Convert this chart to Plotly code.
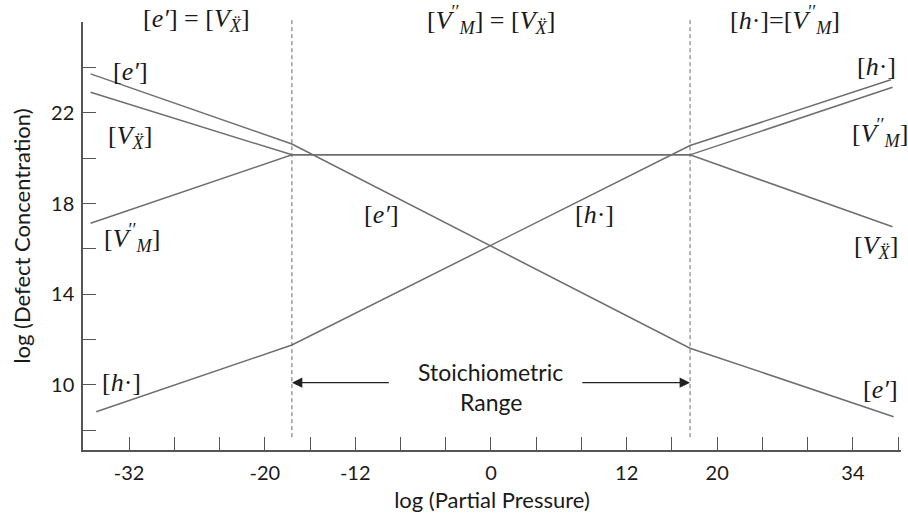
import plotly.graph_objects as go

# Brouwer diagram: log defect concentration vs log partial pressure
# Region boundaries (log P) and piecewise-linear defect lines
bounds = [-17.6, 17.6]

e_x = [-35.4, -17.6, 17.6, 35.6]
e_y = [23.72, 20.63, 11.62, 8.60]

h_x = [-34.9, -17.6, 17.6, 35.35]
h_y = [8.82, 11.76, 20.56, 23.46]

vm_x = [-35.4, -17.6, 17.6, 35.5]
vm_y = [17.13, 20.15, 20.15, 23.13]

vx_x = [-35.4, -17.6, 17.6, 35.5]
vx_y = [22.91, 20.15, 20.15, 16.98]

x_tickvals = [-32, -20, -12, 0, 12, 20, 32]
x_ticktext = ["-32", "-20", "-12", "0", "12", "20", "34"]
x_minor = [-32 + 4 * i for i in range(18)]

y_tickvals = [10, 14, 18, 22]
y_ticktext = ["10", "14", "18", "22"]
y_minor = [8, 10, 12, 14, 16, 18, 20, 22, 24]

LINE = "#6e6e6e"
AXIS = "#555555"
TXT = "#1a1a1a"
SANS = "Lato, 'Open Sans', sans-serif"
SERIF = "'Liberation Serif', 'DejaVu Serif', serif"

E = "[<i>e′</i>]"
H = "[<i>h</i>·]"
VM = "[<i>V</i><sup>′′</sup><sub><i>M</i></sub>]"
VX = "[<i>V</i><sub><i>Ẍ</i></sub>]"

fig = go.Figure()

for xs, ys in [(e_x, e_y), (h_x, h_y), (vm_x, vm_y), (vx_x, vx_y)]:
    fig.add_trace(go.Scatter(x=xs, y=ys, mode="lines",
                             line=dict(color=LINE, width=1.5),
                             hoverinfo="skip", showlegend=False))

# dashed regime boundaries
for b in bounds:
    fig.add_shape(type="line", xref="x", yref="paper", x0=b, x1=b,
                  y0=0.030, y1=1.009,
                  line=dict(color="#6a6a6a", width=1, dash="4px,3px"))

# curve labels (text, x, y)
labels = [
    (E, -31.9, 23.81), (VX, -31.9, 20.94), (VM, -31.7, 16.49),
    (E, -9.72, 17.54), (H, 9.11, 17.54),
    (H, 34.05, 24.03), (VM, 34.4, 21.12), (VX, 34.05, 16.09),
    (H, -32.7, 10.09), (E, 34.4, 9.78),
]
for t, x, y in labels:
    fig.add_annotation(x=x, y=y, text=t, showarrow=False,
                       font=dict(family=SERIF, size=26, color=TXT))

# region headers
headers = [
    (E + " = " + VX, -26.0),
    (VM + " = " + VX, 0.0),
    (H + "=" + VM, 26.0),
]
for t, x in headers:
    fig.add_annotation(x=x, y=1.005, xref="x", yref="paper", text=t,
                       showarrow=False, yanchor="middle",
                       font=dict(family=SERIF, size=26, color=TXT))

fig.add_annotation(x=0, y=10.58, text="Stoichiometric", showarrow=False,
                   font=dict(family=SANS, size=23, color=TXT))
fig.add_annotation(x=0, y=9.25, text="Range", showarrow=False,
                   font=dict(family=SANS, size=23, color=TXT))

for head, tail in [(bounds[0], -8.9), (bounds[1], 7.94)]:
    fig.add_annotation(x=head, y=10.1, ax=tail, ay=10.1, axref="x", ayref="y",
                       xref="x", yref="y", text="", showarrow=True,
                       arrowhead=2, arrowsize=1.6, arrowwidth=1.3,
                       arrowcolor="#222222")

tick_style = dict(ticks="inside", ticklen=13, tickwidth=1.3, tickcolor=AXIS)

fig.update_xaxes(range=[-36.07, 36.25], tickvals=x_tickvals, ticktext=x_ticktext,
                 minor=dict(tickvals=x_minor, **tick_style), **tick_style,
                 showline=True, linecolor=AXIS, linewidth=1.5, mirror=False,
                 showgrid=False, zeroline=False, ticklabelstandoff=4,
                 tickfont=dict(family=SANS, size=20, color=TXT),
                 title=dict(text="log (Partial Pressure)", standoff=10,
                            font=dict(family=SANS, size=22, color=TXT)))
fig.update_yaxes(range=[7.13, 26.01], tickvals=y_tickvals, ticktext=y_ticktext,
                 minor=dict(tickvals=y_minor, **tick_style), **tick_style,
                 showline=True, linecolor=AXIS, linewidth=1.5, mirror=False,
                 showgrid=False, zeroline=False, ticklabelstandoff=3,
                 tickfont=dict(family=SANS, size=20, color=TXT),
                 title=dict(text="log (Defect Concentration)", standoff=14,
                            font=dict(family=SANS, size=22, color=TXT)))

fig.update_layout(width=908, height=518,
                  margin=dict(l=83, r=7, t=22, b=68),
                  plot_bgcolor="white", paper_bgcolor="white",
                  showlegend=False)

fig.write_html("out.html")
